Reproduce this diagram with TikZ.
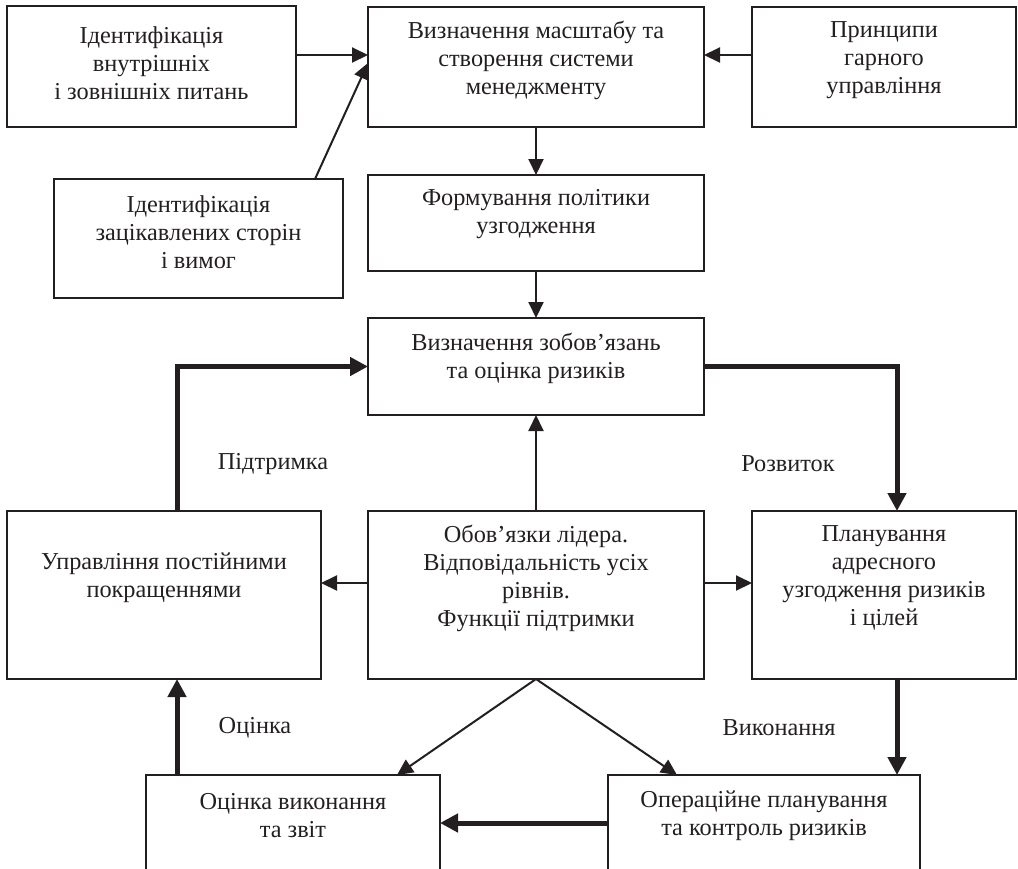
\documentclass[tikz,border=0pt]{standalone}
\usepackage{fontspec}
\setmainfont{Liberation Serif}
\usetikzlibrary{arrows.meta,calc}
\definecolor{ink}{HTML}{231F20}
\begin{document}
\begin{tikzpicture}[x=1pt,y=-1pt,
  box/.style={draw=ink, line width=2pt, inner sep=0pt, outer sep=0pt},
  txt/.style={align=center, inner sep=0pt, text=ink, font=\fontsize{24.3}{28}\selectfont},
  lbl/.style={inner sep=0pt, text=ink, font=\fontsize{24.3}{28}\selectfont},
  thinarrow/.style={draw=ink, line width=2pt, -{Triangle[length=16pt,width=15pt]}},
  thickarrow/.style={draw=ink, line width=5pt, -{Triangle[length=18pt,width=18pt]}},
]
\useasboundingbox (0,0) rectangle (1018,868);
% boxes
\node[box, minimum width=289pt, minimum height=121pt] (b1) at (151.5,66.5) {};
\node[box, minimum width=336pt, minimum height=120pt] (b2) at (536,67) {};
\node[box, minimum width=264pt, minimum height=120pt] (b3) at (884,67) {};
\node[box, minimum width=289pt, minimum height=119pt] (b4) at (198.5,238.5) {};
\node[box, minimum width=336pt, minimum height=96pt] (b5) at (536,223) {};
\node[box, minimum width=336pt, minimum height=97pt] (b6) at (536,366.5) {};
\node[box, minimum width=314pt, minimum height=168pt] (b7) at (164,595) {};
\node[box, minimum width=336pt, minimum height=168pt] (b8) at (536,595) {};
\node[box, minimum width=264pt, minimum height=168pt] (b9) at (884,595) {};
\node[box, minimum width=294pt, minimum height=110pt] (b10) at (293,830) {};
\node[box, minimum width=312pt, minimum height=110pt] (b11) at (764,830) {};
% texts
\node[txt] (t1) at (151.5,63) {Ідентифікація\\внутрішніх\\і зовнішніх питань};
\node[txt] (t2) at (536,60) {Визначення масштабу та\\створення системи\\менеджменту};
\node[txt] (t3) at (884,60) {Принципи\\гарного\\управління};
\node[txt] (t4) at (198.5,232) {Ідентифікація\\зацікавлених сторін\\і вимог};
\node[txt] (t5) at (536,214) {Формування політики\\узгодження};
\node[txt] (t6) at (536,358) {Визначення зобов’язань\\та оцінка ризиків};
\node[txt] (t7) at (164,578) {Управління постійними\\покращеннями};
\node[txt] (t8) at (536,578) {Обов’язки лідера.\\Відповідальність усіх\\рівнів.\\Функції підтримки};
\node[txt] (t9) at (884,578) {Планування\\адресного\\узгодження ризиків\\і цілей};
\node[txt] (t10) at (293,816) {Оцінка виконання\\та звіт};
\node[txt] (t11) at (764,816) {Операційне планування\\та контроль ризиків};
% labels
\node[lbl] (l1) at (273,464) {Підтримка};
\node[lbl] (l2) at (788,464) {Розвиток};
\node[lbl] (l3) at (255,728) {Оцінка};
\node[lbl] (l4) at (779,728) {Виконання};
% helper coordinates
\coordinate (ya) at (0,55);
\coordinate (yb) at (0,63);
\coordinate (yc) at (0,583);
\coordinate (yd) at (0,823);
\coordinate (xa) at (315,0);
\coordinate (xb) at (177,0);
\coordinate (xc) at (897,0);
\coordinate (xd) at (397,0);
\coordinate (xe) at (677,0);
% thin connectors
\draw[thinarrow] (b1.east |- ya) -- (b2.west |- ya);
\draw[thinarrow] (b3.west |- ya) -- (b2.east |- ya);
\draw[thinarrow] (b4.north -| xa) -- (b2.west |- yb);
\draw[thinarrow] (b2.south) -- (b5.north);
\draw[thinarrow] (b5.south) -- (b6.north);
\draw[thinarrow] (b8.north) -- (b6.south);
\draw[thinarrow] (b8.west |- yc) -- (b7.east |- yc);
\draw[thinarrow] (b8.east |- yc) -- (b9.west |- yc);
\draw[thinarrow] (b8.south) -- (b10.north -| xd);
\draw[thinarrow] (b8.south) -- (b11.north -| xe);
% thick connectors
\draw[thickarrow] (b7.north -| xb) |- (b6.west);
\draw[thickarrow] (b6.east) -| (b9.north -| xc);
\draw[thickarrow] (b9.south -| xc) -- (b11.north -| xc);
\draw[thickarrow] (b10.north -| xb) -- (b7.south -| xb);
\draw[thickarrow] (b11.west |- yd) -- (b10.east |- yd);
\end{tikzpicture}
\end{document}
